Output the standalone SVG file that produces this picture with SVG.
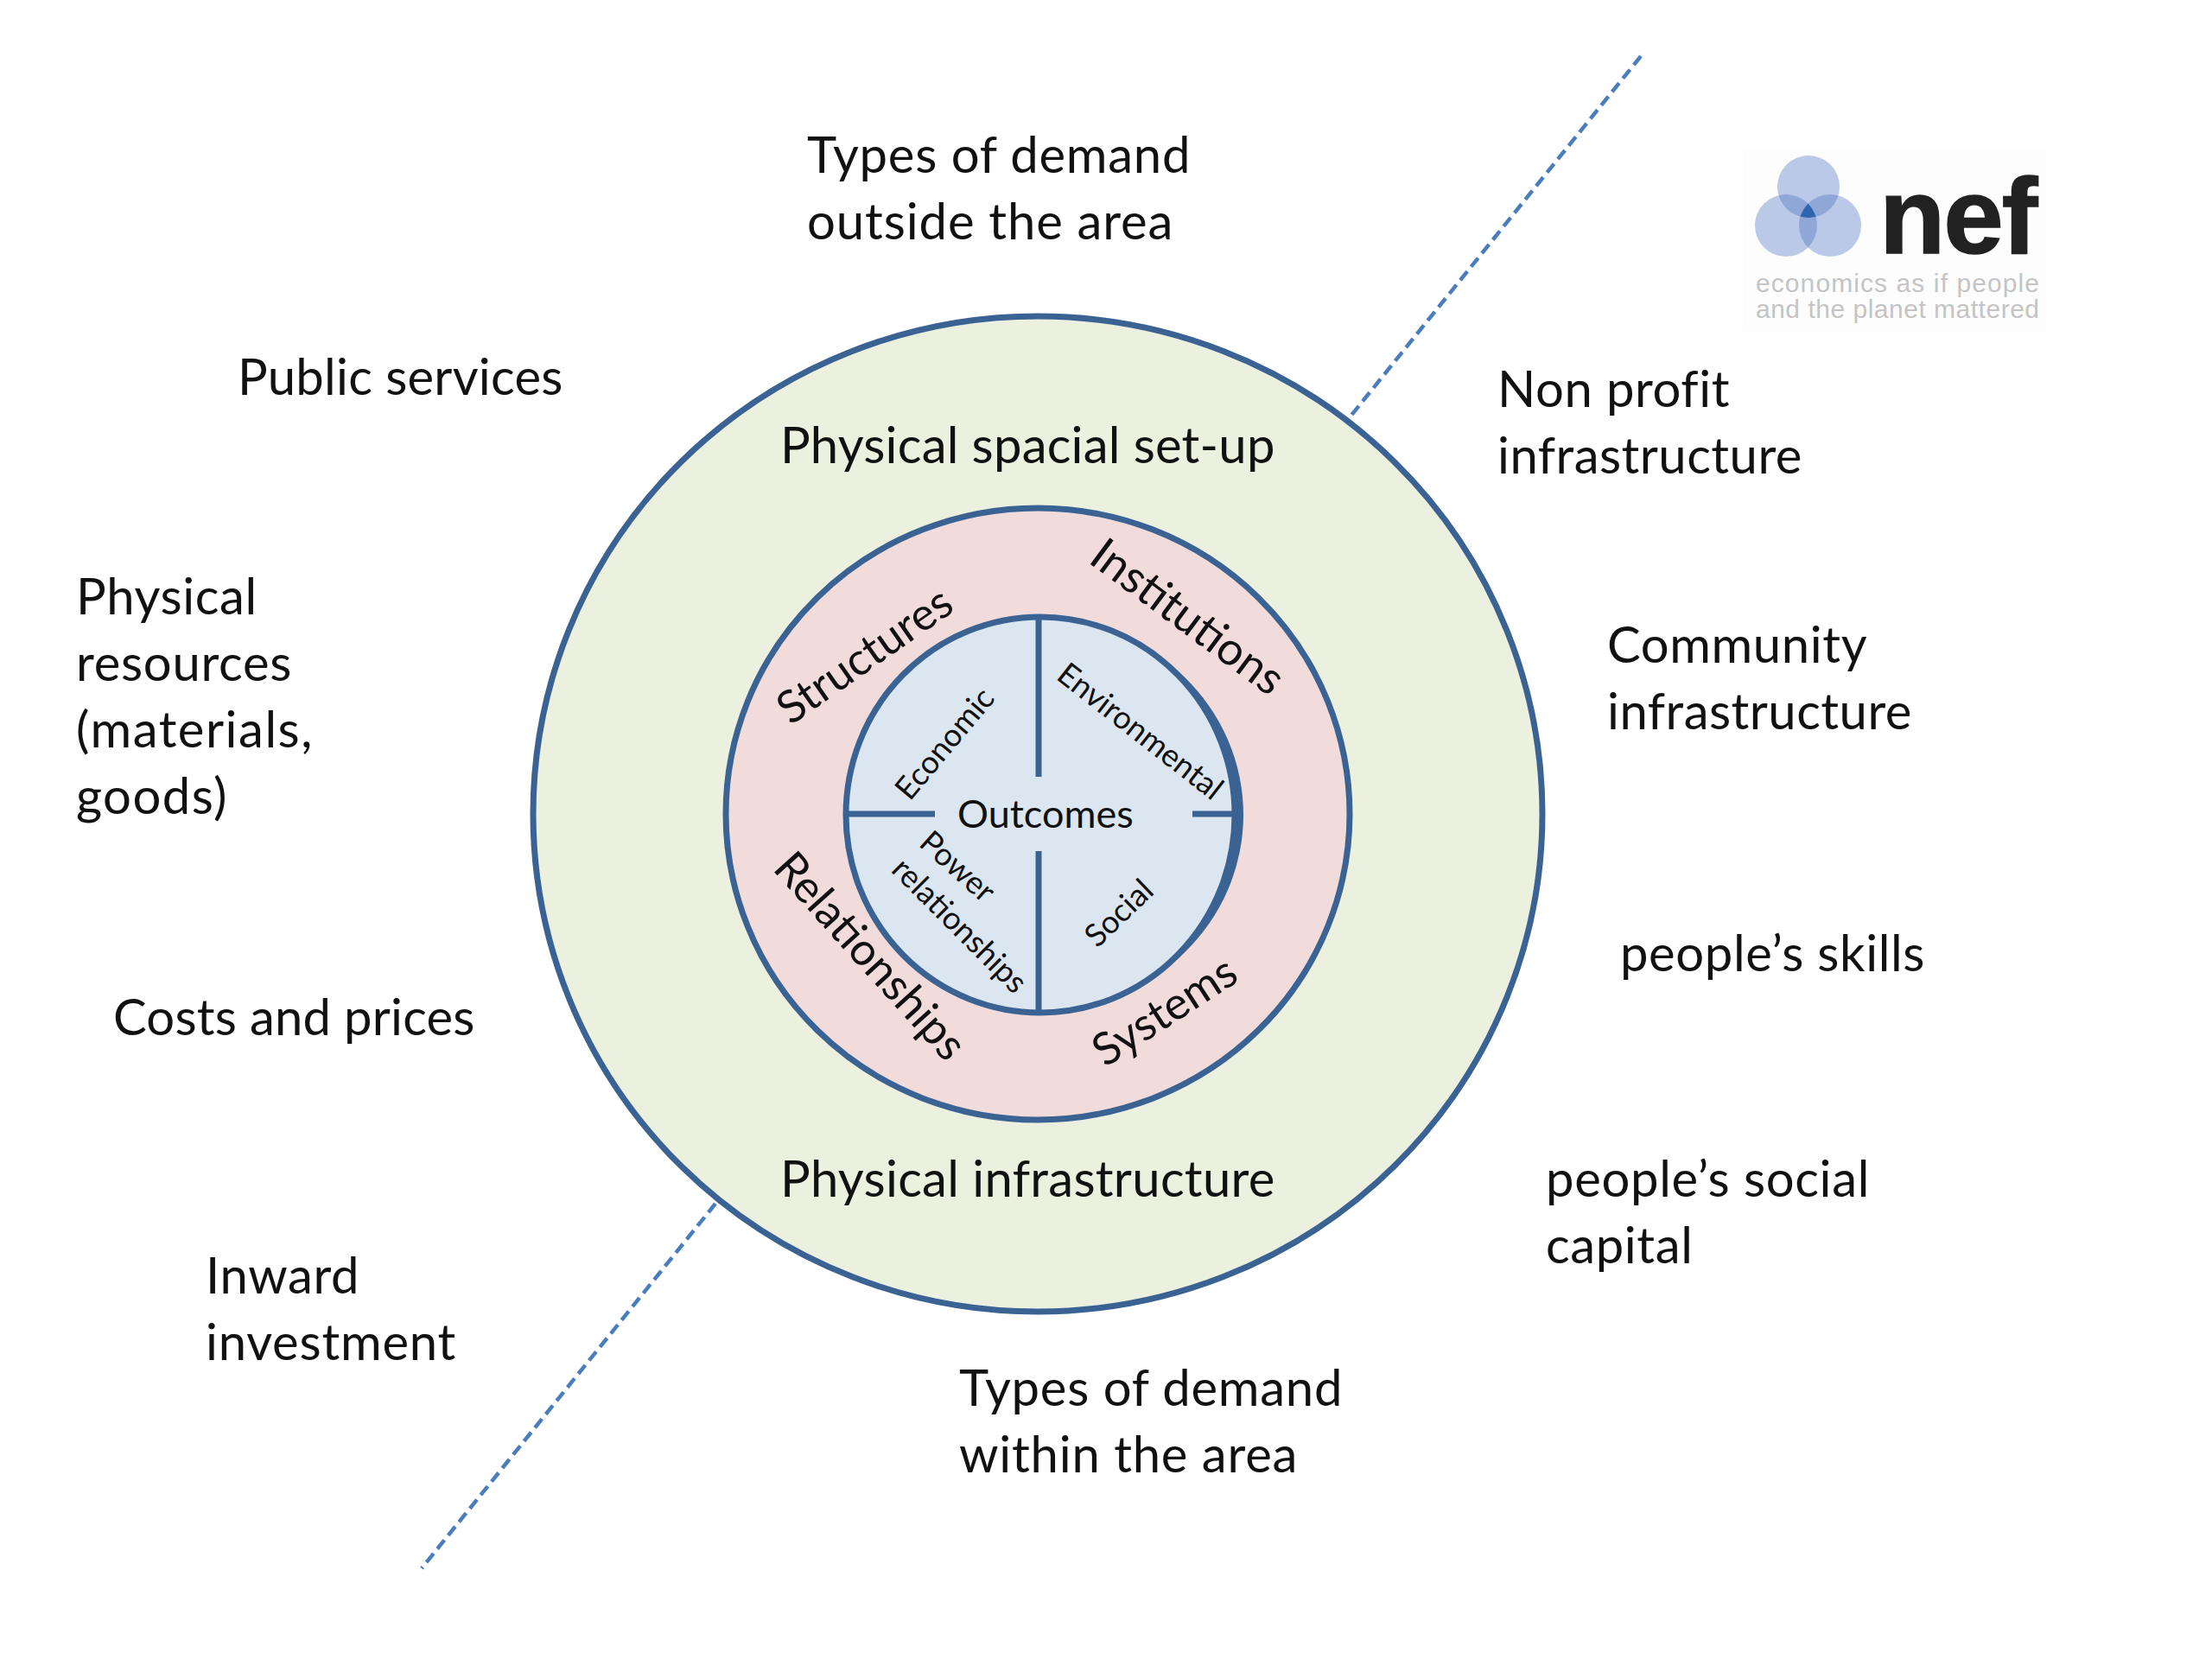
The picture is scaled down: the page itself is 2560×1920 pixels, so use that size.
<svg xmlns="http://www.w3.org/2000/svg" width="2560" height="1920" viewBox="0 0 2560 1920">
<defs>
<clipPath id="a"><circle cx="2093" cy="216" r="36"/></clipPath>
<clipPath id="b"><circle cx="2067" cy="261" r="36"/></clipPath>
<clipPath id="c"><circle cx="2118" cy="261" r="36"/></clipPath>
</defs>
<style>
text{font-family:"Lato","Open Sans",sans-serif;fill:#111}
.l{font-size:58px;letter-spacing:.6px}
.r{font-size:52px}
.s{font-size:45px}
.t{font-size:36.5px}
.c{stroke:#3a6394;stroke-width:7}
.d{stroke:#4a7dbd;stroke-width:4.5;stroke-dasharray:13 7;fill:none}
.v{stroke:#3a6394;stroke-width:7;fill:none}
.g{font-family:"Liberation Sans",sans-serif;font-size:30px;fill:#c4c4c4}
</style>
<rect width="2560" height="1920" fill="#fff"/>
<g id="connectors">
<line class="d" x1="1899" y1="65" x2="1562" y2="483"/>
<line class="d" x1="828" y1="1393" x2="488" y2="1815"/>
</g>
<g id="outer-ring"><ellipse class="c" cx="1201" cy="942" rx="584" ry="576" fill="#ebf0df"/>
<text class="l" x="903" y="536" textLength="573">Physical spacial set-up</text>
<text class="l" x="903" y="1385" textLength="573">Physical infrastructure</text></g>
<g id="middle-ring"><ellipse class="c" cx="1201" cy="942" rx="361" ry="354" fill="#f2dcdb"/>
<text class="r" transform="translate(915 840) rotate(-35)">Structures</text>
<text class="r" transform="translate(1258 650) rotate(36.5)" style="font-size:53px">Institutions</text>
<text class="r" transform="translate(893 1006) rotate(48)">Relationships</text>
<text class="r" transform="translate(1279 1236) rotate(-33)">Systems</text></g>
<g id="inner-circle"><path d="M1205 717A234 226 0 0 1 1205 1169Z" fill="#3a6394"/>
<ellipse class="c" cx="1204" cy="943" rx="225" ry="229" fill="#dce6f1"/>
<path class="v" d="M1202 714V899M1202 985V1172M981 942H1082M1380 942H1430"/>
<text class="s" x="1108" y="958">Outcomes</text>
<text class="t" transform="translate(1053 928) rotate(-50)">Economic</text>
<text class="t" transform="translate(1221 785) rotate(38)">Environmental</text>
<text class="t" transform="translate(1062 978) rotate(42)">Power</text>
<text class="t" transform="translate(1030 1008) rotate(45)">relationships</text>
<text class="t" transform="translate(1270 1098) rotate(-44)">Social</text></g>
<g id="t-outside"><text class="l" x="934" y="200" textLength="444">Types of demand</text><text class="l" x="934" y="277" textLength="424">outside the area</text></g>
<g id="t-public"><text class="l" x="275" y="457" textLength="377">Public services</text></g>
<g id="t-physical"><text class="l" x="88" y="711">Physical</text><text class="l" x="88" y="788" textLength="250">resources</text><text class="l" x="88" y="865" textLength="274">(materials,</text><text class="l" x="88" y="942" textLength="175">goods)</text></g>
<g id="t-costs"><text class="l" x="131" y="1198" textLength="419">Costs and prices</text></g>
<g id="t-inward"><text class="l" x="238" y="1497">Inward</text><text class="l" x="238" y="1574" textLength="290">investment</text></g>
<g id="t-within"><text class="l" x="1110" y="1627" textLength="444">Types of demand</text><text class="l" x="1110" y="1704" textLength="392">within the area</text></g>
<g id="t-nonprofit"><text class="l" x="1733" y="471">Non profit</text><text class="l" x="1733" y="548" textLength="353">infrastructure</text></g>
<g id="t-community"><text class="l" x="1860" y="767">Community</text><text class="l" x="1860" y="844" textLength="353">infrastructure</text></g>
<g id="t-skills"><text class="l" x="1875" y="1124" textLength="353">people’s skills</text></g>
<g id="t-social"><text class="l" x="1789" y="1385" textLength="375">people’s social</text><text class="l" x="1789" y="1462">capital</text></g>
<g id="logo">
<rect x="2017" y="173" width="351" height="210" fill="#fdfdfd"/>
<g fill="#bac9e7"><circle cx="2093" cy="216" r="36"/><circle cx="2067" cy="261" r="36"/><circle cx="2118" cy="261" r="36"/></g>
<g fill="#90a8d8">
<circle cx="2093" cy="216" r="36" clip-path="url(#b)"/>
<circle cx="2093" cy="216" r="36" clip-path="url(#c)"/>
<circle cx="2067" cy="261" r="36" clip-path="url(#c)"/>
</g>
<g clip-path="url(#a)"><circle cx="2067" cy="261" r="36" clip-path="url(#c)" fill="#2f66b0"/></g>
<text x="2175" y="293" style="font-family:'Liberation Sans',sans-serif;font-weight:bold;font-size:125px;fill:#222;letter-spacing:-2px;stroke:#222;stroke-width:1.5">nef</text>
<text class="g" x="2032" y="338" textLength="328">economics as if people</text>
<text class="g" x="2032" y="368" textLength="328">and the planet mattered</text>
</g>
</svg>
